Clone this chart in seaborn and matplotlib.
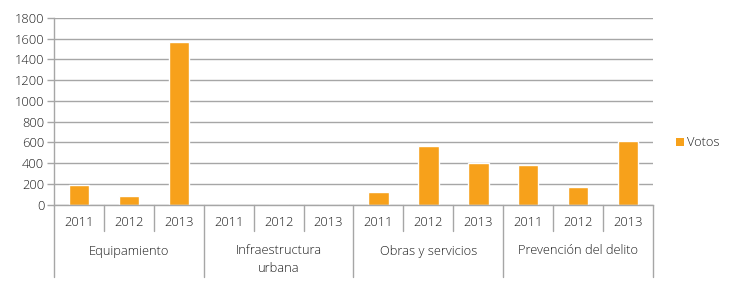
import matplotlib
matplotlib.use("Agg")
import matplotlib.pyplot as plt
import matplotlib.transforms as mtrans
from matplotlib.patches import Patch
import seaborn as sns
import pandas as pd

groups = ["Equipamiento", "Infraestructura\nurbana", "Obras y servicios", "Prevención del delito"]
years = ["2011", "2012", "2013"]
votos = [185, 85, 1570, 0, 0, 0, 125, 565, 400, 380, 165, 615]
yticks = [0, 200, 400, 600, 800, 1000, 1200, 1400, 1600, 1800]

sns.set_theme(style="white")
plt.rcParams["font.family"] = ["Open Sans", "DejaVu Sans"]
plt.rcParams["font.weight"] = "light"

n = len(votos)
df = pd.DataFrame({
    "pos": list(range(n)),
    "grupo": [g for g in groups for _ in years],
    "anio": years * len(groups),
    "Votos": votos,
})

fig = plt.figure(figsize=(7.29, 2.93), dpi=100)
ax = fig.add_axes([54 / 729, 1 - 204.5 / 293, (653 - 54) / 729, (204.5 - 18) / 293])

color = "#F7A11B"
txt_c = "#1E1E1E"
fs = 9.3
sns.barplot(data=df, x="pos", y="Votos", color=color, width=0.41, ax=ax,
            native_scale=True, saturation=1)
ax.set_xlim(-0.5, n - 0.5)
ax.set_ylim(0, 1800)
ax.set_yticks(yticks)
ax.set_yticklabels([str(t) for t in yticks], fontsize=fs, color=txt_c, fontweight="light")
ax.set_xticks([])
ax.set_xlabel("")
ax.set_ylabel("")

grid_c = "#A6A6A6"
ax.yaxis.grid(True, color=grid_c, linewidth=1)
ax.set_axisbelow(True)
for s in ["top", "right"]:
    ax.spines[s].set_visible(False)
ax.spines["left"].set_color(grid_c)
ax.spines["bottom"].set_color(grid_c)
ax.spines["left"].set_linewidth(1)
ax.spines["bottom"].set_linewidth(1)
ax.tick_params(axis="y", which="both", left=True, length=5, color=grid_c, width=1, pad=2)

trans = mtrans.blended_transform_factory(ax.transData, ax.transAxes)
h_px = 204.5 - 18
def ay(px):  # pixel y in figure -> axes fraction
    return (204.5 - px) / h_px

# year labels
for i in range(n):
    ax.text(i, ay(223), df["anio"][i], transform=trans, ha="center", va="center",
            fontsize=fs, color=txt_c, fontweight="light", clip_on=False)
# year separators
for i in range(n + 1):
    x = i - 0.5
    if i % 3 == 0:
        y1 = ay(277)
    else:
        y1 = ay(231)
    ax.plot([x, x], [0, y1], transform=trans, color=grid_c, lw=1, clip_on=False)
# group labels
for gi, g in enumerate(groups):
    ax.text(gi * 3 + 1, ay(244.5), g, transform=trans, ha="center", va="top",
            fontsize=fs, color=txt_c, fontweight="light", linespacing=1.45, clip_on=False)

handles = [Patch(facecolor=color, edgecolor="none", label="Votos")]
fig.legend(handles=handles, loc="center left", bbox_to_anchor=(670 / 729, 1 - 143 / 293),
           frameon=False, prop={"size": fs, "weight": "light"}, handlelength=0.55,
           handleheight=0.55, handletextpad=0.3, borderpad=0, labelcolor=txt_c)

fig.savefig("out.png", dpi=100)
